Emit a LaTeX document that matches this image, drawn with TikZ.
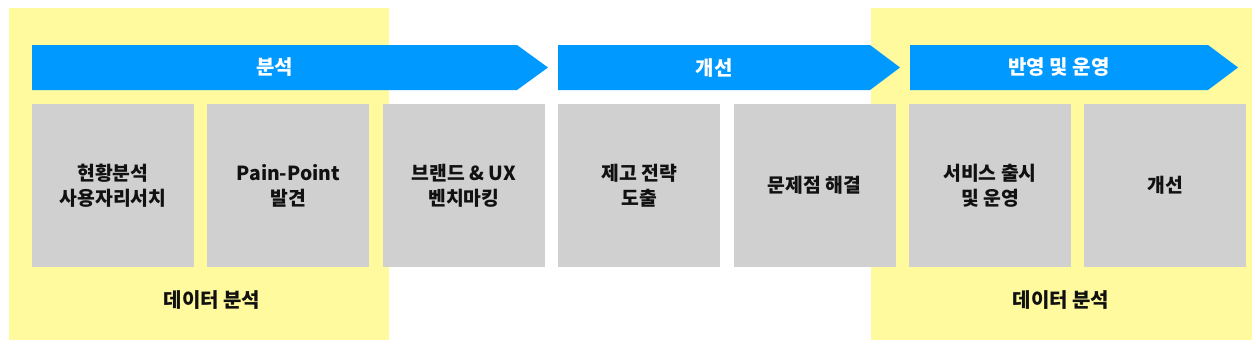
\documentclass[tikz,border=0pt]{standalone}
\usepackage{fontspec}
\setmainfont{Noto Sans CJK KR}
\usetikzlibrary{positioning}
\definecolor{phaseblue}{HTML}{0099FF}
\definecolor{hilite}{HTML}{FFFA9E}
\definecolor{cellgrey}{HTML}{D0D0D0}
\definecolor{ink}{HTML}{111111}
\tikzset{
  band/.style={
    fill=hilite
  },
  phase/.style={
    fill=phaseblue
  },
  phaselabel/.style={
    text=white,
    font=\fontsize{15}{18}\selectfont\bfseries
  },
  task/.style={
    fill=cellgrey,
    minimum width=121.5pt,
    minimum height=122.25pt,
    inner sep=0pt,
    outer sep=0pt,
    align=center,
    text=ink,
    font=\fontsize{14.5}{18.75}\selectfont\bfseries
  },
  datalabel/.style={
    text=ink,
    font=\fontsize{15}{18}\selectfont\bfseries
  }
}

\begin{document}
\begin{tikzpicture}[x=0.75pt, y=-0.75pt, node distance=10.05pt]
  \useasboundingbox (0,0) rectangle (1256,350);
  % data analysis bands
  \fill[band] (9,8) rectangle (389,340);
  \fill[band] (871,8) rectangle (1252,340);
  % phase arrows
  \fill[phase] (32,45) -- (517,45) -- (548,67.5) -- (517,90) -- (32,90) -- cycle;
  \fill[phase] (558,45) -- (870,45) -- (900,67.5) -- (870,90) -- (558,90) -- cycle;
  \fill[phase] (910,45) -- (1208,45) -- (1238,67.5) -- (1208,90) -- (910,90) -- cycle;
  \node[phaselabel] (analyse) at (274.5,67.5) {분석};
  \node[phaselabel] (improve) at (714,67.5) {개선};
  \node[phaselabel] (release) at (1059,67.5) {반영 및 운영};
  % tasks
  \node[task] (t1) at (113,185.5) {현황분석\\사용자리서치};
  \node[task, right=of t1] (t2) {Pain-Point\\발견};
  \node[task, right=of t2] (t3) {브랜드 \& UX\\벤치마킹};
  \node[task, right=of t3] (t4) {제고 전략\\도출};
  \node[task, right=of t4] (t5) {문제점 해결};
  \node[task, right=of t5] (t6) {서비스 출시\\및 운영};
  \node[task, right=of t6] (t7) {개선};
  % bottom labels
  \node[datalabel] (data1) at (212,300) {데이터 분석};
  \node[datalabel] (data2) at (1061,300) {데이터 분석};
\end{tikzpicture}
\end{document}
